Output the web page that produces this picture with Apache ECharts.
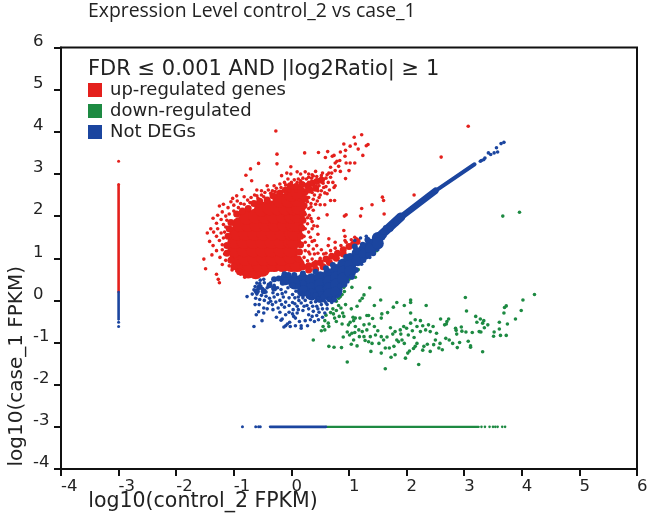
<!DOCTYPE html>
<html><head><meta charset="utf-8">
<style>html,body{margin:0;background:#fff}#c{width:647px;height:516px;filter:blur(0.4px)}</style>
<script src="https://cdn.jsdelivr.net/npm/echarts@6/dist/echarts.min.js"></script></head>
<body><div id="c"></div>
<script>
const titleText = "Expression Level control_2 vs case_1";
const ruleText = "FDR ≤ 0.001 AND |log2Ratio| ≥ 1";
const upName = "up-regulated genes", downName = "down-regulated", notName = "Not DEGs";

const redCore = [
[-.75,.7],[-.62,.68],[-.5,.74],
[-.88,.85],[-.72,.85],[-.56,.85],[-.4,.85],[-.3,.85],[-.15,.85],[0,.85],[.1,.85],
[-.95,1],[-.8,1],[-.64,1],[-.48,1],[-.32,1],[-.16,1],[-.02,1.05],
[-.98,1.2],[-.82,1.2],[-.66,1.2],[-.5,1.2],[-.34,1.2],[-.18,1.2],[-.02,1.2],
[-.98,1.4],[-.82,1.4],[-.66,1.4],[-.5,1.4],[-.34,1.4],[-.18,1.4],[-.02,1.4],[.04,1.4],
[-.95,1.6],[-.8,1.6],[-.64,1.6],[-.48,1.6],[-.32,1.6],[-.16,1.6],[0,1.6],[.06,1.6],
[-.9,1.8],[-.75,1.8],[-.6,1.8],[-.44,1.8],[-.28,1.8],[-.12,1.8],[.02,1.8],[.08,1.8],
[-.78,1.98],[-.62,2],[-.46,2],[-.3,2],[-.14,2],[0,2],[.1,2.02],
[-.52,2.17],[-.38,2.2],[-.24,2.2],[-.1,2.2],[.04,2.2],[.12,2.22],
[-.2,2.38],[-.05,2.38],[.1,2.4],
[0,2.52],[.12,2.55]];
const redMid = [
[-1.1,1.52],[-1.12,1.3],[-1.12,1.12],[-1.05,.95],[-1,.8],[-.9,.68],[-1.08,1.7],[-1.05,1.85],[-.95,2.05],[-.85,2.12],[-.75,2.18],[-.65,2.3],[-.55,2.35],[-.42,2.38],[-.32,2.48],[-.2,2.55],[-.1,2.62],[-.02,2.72],[.08,2.7],[.18,2.75],[.28,2.72],[.36,2.78],[.44,2.82],[.52,2.85],[.24,2.58],[.32,2.62],[.42,2.66],[.24,2.42],[.22,2.25],[.2,2.06],[.2,1.9],[.18,1.72],[.16,1.52],[.16,1.32],[.14,1.15],[.12,.98],
[.3,.82],[.4,.85],[.5,.9],[.6,.98],[.7,1.05],[.8,1.12],[.9,1.2],[1,1.28],[1.08,1.34],[1.14,1.4],[.2,.8],[.3,.72],[.42,.74],[.55,.8],[.66,.9],[.78,1],[.9,1.1]];
const redSmall = [
[-.27,4.02],[-.25,3.47],[-.25,3.24],[-.57,3.25],[-.71,3.12],[-.79,2.97],[-.69,2.84],[-.86,2.63],[-.01,3.17],[-.01,3],[-.17,2.96],[.23,3.5],[.47,3.51],[.63,3.53],[1.22,3.93],[1.09,3.87],[.91,3.71],[1.11,3.71],[1.02,3.66],[1.16,3.59],[1.3,3.67],[1.33,3.7],[1.24,3.44],[.85,3.52],[.94,3.56],[.93,3.42],[.71,3.42],[.74,3.44],[.59,3.39],[.79,3.3],[.84,3.32],[1.02,3.26],[1.1,3.26],[.95,3.26],[1,3.08],[.76,3.26],[.82,3.18],[.68,3.16],[.76,3.08],[.85,3.06],[.65,3.02],[.94,2.89],[.76,2.72],[.42,3.06],[.3,3],[.16,3],
[.62,2.53],[.75,2.37],[.68,2.37],[.62,2.03],[.5,2.27],[.58,2.27],[1.22,2.18],[.95,2.03],[.92,2],[.36,1.87],[.47,1.95],[.45,1.76],[.39,1.77],[.46,1.57],[.65,1.46],[.91,1.66],[.93,1.52],[.93,1.42],[.76,1.38],[.64,1.3],[3.07,4.13],[2.6,3.4],[2.13,2.5],[1.58,2.45],[1.6,2.37],[1.4,2.27],[1.61,2.05],[1.2,2.0],
[.05,2.86],[.1,2.8],[.16,2.84],[.21,2.78],[.26,2.88],[.3,2.8],[.35,2.9],[.39,2.82],[.44,2.94],[.48,2.86],[.52,2.96],[.56,2.88],[.6,2.9],[.64,2.8],[.68,2.92],[.55,2.78],[.48,2.72],[.4,2.7],[.33,2.68],[.27,2.7],[.2,2.62],[.14,2.66],[.08,2.6],[.02,2.68],[-.04,2.6],[-.09,2.55],[-.14,2.62],[-.2,2.56],[-.26,2.66],[-.33,2.6],[-.4,2.62],[-.46,2.56],[-.52,2.5],[-.58,2.42],[-.64,2.5],[-.7,2.44],[-.76,2.38],[-.82,2.46],[-.88,2.3],[-.94,2.36],[-1,2.26],[-1.05,2.34],[-1.1,2.2],[-1.18,2.28],[-1.25,2.24],[-1.2,2.1],[-1.28,2.02],[-1.36,1.95],[-1.14,2],[-1.22,1.92],[-1.3,1.83],[-1.4,1.7],[-1.46,1.6],[-1.35,1.62],[-1.28,1.7],[-1.18,1.8],[-1.12,1.9],[-1.22,1.6],[-1.3,1.52],[-1.42,1.4],[-1.36,1.3],[-1.25,1.42],[-1.2,1.32],[-1.3,1.18],[-1.38,1.08],[-1.24,1.02],[-1.16,1.1],[-1.14,.95],[-1.2,.85],[-1.08,.82],[-1.03,.72],[-.95,.7],[-.88,.62],[-.81,.55],[-1.52,.98],[-1.49,.75],[-1.3,.62],[-1.27,.5],[-1.25,.42],
[-1.18,1.48],[-1.2,1.2],[-1.16,1.62],[-1.14,1.74],[-1.08,2.05],[-1,2.12],[-.92,2.2],[-.82,2.28],[-.72,2.32],[-.6,2.48],[-.48,2.46],[-.36,2.54],[-.28,2.58],[-.18,2.68],[-.1,2.74],[.0,2.8],[.12,2.88],[.2,2.9],[.3,2.92],[.38,2.95],
[.14,2.38],[.22,2.36],[.3,2.44],[.25,2.55],[.34,2.3],[.4,2.5],[.45,2.36],[.52,2.6],[.3,2.18],[.38,2.14],[.24,2.04],[.31,2.02],[.2,1.9],[.28,1.82],[.24,1.7],[.3,1.62],[.22,1.52],[.33,1.5],[.24,1.38],[.3,1.3],[.38,1.22],[.44,1.3],[.24,1.18],[.32,1.1],[.22,1.02],[.28,.94],[.36,.98],[.42,.92],[.5,1],[.56,1.1],[.6,1.12],[.68,1.18],[.76,1.24],[.86,1.3],[.95,1.38],[.52,1.2],[1.1,1.5],[1.13,1.46],[1.04,1.44],
[.6,2.7],[.66,2.62],[.58,2.55],[.5,2.5],[.72,2.8],[.74,2.68],[.62,2.98],[.7,3.02],[.54,3.02],[.36,2.56],[.46,2.6],[.56,2.68],[.28,2.34],[.38,2.4],[.34,2.22],[.42,2.28],[.48,2.44],[.1,3.05],[.24,3.05],[.36,2.98],[-.06,2.88],[-.12,2.8],[-.2,2.76],[-.3,2.72],[-.42,2.72],[-.52,2.6],[-.6,2.62],[-.95,2.48],[-1.02,2.42],[-.08,3.02],[.34,1.94],[.28,1.96],[.36,1.7],[.4,1.42],[.36,1.4],[.3,1.15],[.4,1.1],[.46,1.12]];
const greenPts = [
[3.67,2],[3.96,2.09],[4.22,.14],[4.02,.01],[3.02,.07],[3.99,-.24],[3.73,-.13],[3.7,-.17],[3.69,-.3],[3.89,-.44],[3.04,-.25],[3.2,-.38],[3.28,-.44],[3.34,-.48],[3.41,-.58],[3.32,-.54],[3.35,-.65],[3.26,-.74],[3.29,-.75],[3.14,-.76],[3.22,-.52],[3.61,-.52],[3.75,-.56],[3.61,-.68],[3.52,-.75],[3.51,-.85],[3.63,-.83],[3.73,-.83],[3.32,-1.22],[3.11,-1.08],[3.11,-1.11],[3.07,-.97],[2.92,-1],[2.88,-1.12],[2.8,-1.02],[2.74,-.94],[2.68,-.9],[2.85,-.66],[2.86,-.71],[2.87,-.8],[2.95,-.63],[2.96,-.73],[3.03,-.75],[2.73,-.44],[2.7,-.5],[2.66,-.58],[2.69,-.56],[2.59,-.44],[2.34,-.12],[2.07,.01],[2.07,-.05],[1.96,-.12],[1.83,-.05],[1.77,-.16],[2.07,-.3],[1.67,-.29],[1.55,.01],[1.57,-.32],[1.56,-.42],[1.41,-.43],[1.31,-.36],[1.34,-.36],[1.19,-.42],[1.26,.13],[1.23,.05],[1.19,-.01],[1.14,-.14],[1.04,-.2],[.94,-.1],[.82,-.12],[.86,-.18],[.89,-.3],[.91,-.38],[1.02,-.52],[1.07,-.4],[1.11,-.42],[1.08,-.48],[.99,-.58],[.88,-.56],[.78,-.5],[.64,-.54],[.55,-.62],[.65,-.62],[.73,-.32],[.68,-.29],[.65,-1.09],[.74,-1.11],[.87,-1.12],[.97,-1.46],[1.63,-1.62],[2.21,-1.52],[1.04,-1.04],[1.14,-1.08],[1.08,-.94],[.9,-.87],[.97,-.75],[1.01,-.82],[1.05,-.78],[1.11,-.62],[1.17,-.7],[1.23,-.74],[1.26,-.58],[1.31,-.7],[1.35,-.56],[1.37,-.86],[1.26,-.86],[1.34,-.98],[1.4,-1.02],[1.38,-1.21],[1.46,-.82],[1.56,-.86],[1.52,-1.02],[1.6,-.94],[1.66,-.87],[1.56,-1.25],[1.63,-1.13],[1.73,-1.35],[1.8,-1.29],[1.83,-.94],[1.86,-.98],[1.8,-.74],[1.89,-.7],[1.95,-.62],[2,-.66],[2.07,-.54],[2.15,-.46],[2.24,-.48],[2.18,-.62],[2.24,-.74],[2.33,-.7],[2.38,-.58],[2.41,-.74],[2.5,-.94],[2.47,-1.05],[2.56,-1.13],[2.62,-1.17],[2.41,-1.21],[2.3,-1.09],[2.18,-1.02],[2.15,-1.09],[2.02,-1.25],[1.98,-1.37],[1.92,-.94],[1.78,-1.09],[1.7,-1.13],[1.72,-.65],[1.76,-.8],[1.9,-.8],[2.03,-.82],[2.1,-.72],[2.13,-.88],[2.28,-.6],[2.46,-.62],[2.52,-.78],[2.58,-1.02],[2.36,-1.04],[2.28,-1.18],[2.12,-1.14],[1.96,-1.02],[2.05,-1.2],[1.5,-.72],[1.44,-.62],[1.28,-.95],[1.18,-.86],[1.1,-.76],
[1.48,1.18],[1.16,.73],[1.11,.55],[1.05,.53],[1.05,.31],[1,.5],[.91,.31],[.92,.21],[.85,.09],[.82,.05],[.88,.14],[.98,.58],[.78,-.02],[.72,-.2],[.6,-.35],[.58,-.48],[.52,-.72],[.58,-.7],[.38,-.94],[.78,-.24],[.83,-.38],[.75,-.42],[1.36,.3],[1.44,-.12]];
const blueCore = [
[-.1,.5],[.05,.47],[.2,.5],[.2,.35],[.35,.5],[.35,.28],[.5,.55],[.5,.38],[.5,.22],
[.05,.4],[.2,.22],[.35,.14],[.5,.08],
[.65,.62],[.65,.45],[.65,.28],[.65,.14],[.78,.72],[.78,.55],[.78,.38],[.78,.2],
[.9,.85],[.9,.68],[.9,.52],[1.02,.98],[1.02,.82],[1.02,.68],[1.15,1.12],[1.15,.95],
[1.27,1.22],[1.27,1.1],[1.38,1.32],[1.38,1.22],[1.5,1.48],[1.5,1.35]];
const blueMid = [
[-.3,.5],[-.22,.52],[-.15,.42],[.1,.34],[.02,.36],[.28,.16],[.42,.12],[.55,.06],[.66,.03],[.74,.02],[.85,.34],[.92,.38],[1.05,.56],[1.12,.72],[1.25,.96],[1.34,1.08],[1.42,1.12],[1.6,1.62],[1.58,1.5],[1.1,1.28],[.95,1.03],[.42,.68],[.6,.76],[.72,.84],[.2,.64],[.05,.6],[-.12,.62],[-.05,.6],
[-.55,.32],[-.48,.22],[-.38,.36],[-.6,.22],[-.3,.28],[1.68,1.68],[1.75,1.78],[1.64,1.72],[1.72,1.7],[1.82,1.84],[1.24,1.32],[1.32,1.44]];
const blueLines = [[1.5,1.48],[1.9,1.98]];
const blueLinesMid = [[1.85,1.92],[2.5,2.6]];
const blueLinesThin = [[2.45,2.55],[3.18,3.23]];
const blueSmall = [
[-.77,.09],[-.65,-.62],[-.51,-.48],[-.61,-.34],[-.57,-.27],[-.48,-.18],[-.63,-.1],[-.65,.25],[-.63,.33],[-.6,.41],[-.54,.48],[-.48,.5],[-.68,.15],[-.6,.15],[-.52,.12],[-.44,.1],[-.62,.05],[-.55,.02],[-.47,0],[-.38,.05],[-.32,.18],[-.3,.08],[-.24,.14],[-.4,-.06],[-.33,-.1],[-.27,-.04],[-.2,0],[-.14,.08],[-.1,.2],[-.56,-.1],[-.48,-.3],[-.42,-.2],[-.32,-.22],[-.23,-.18],[-.17,-.1],[-.1,-.04],[-.04,.06],[.02,.14],[.06,.06],[-.2,-.28],[-.26,-.4],[-.16,-.44],[-.1,-.6],[-.13,-.63],[-.07,-.56],[-.03,-.52],[-.18,-.47],[-.02,-.62],[.07,-.6],[.17,-.66],[.17,-.6],[.04,-.38],[.07,-.42],[-.04,-.28],[.03,-.22],[.1,-.14],[.17,-.06],[.24,.0],[.1,-.3],[.2,-.24],[.27,-.12],[.34,-.05],[.42,-.03],[.5,.02],[.3,-.34],[.38,-.26],[.44,-.14],[.52,-.1],[.6,-.06],[.68,0],[.33,-.46],[.4,-.5],[.47,-.46],[.54,-.4],[.58,-.3],[.62,-.2],[.48,-.28],[.14,-.5],[.24,-.48],[.28,-.6],[.62,-.1],[.7,-.05],[.66,.04],[.02,-.05],[.8,.1],[.86,.26],[.98,.44],[1.08,.66],[1.22,.86],[1.36,1.02],[1.5,1.2],[1.62,1.52],[1.3,1.52],[1.2,1.48],[1.1,1.42],[3.3,3.32],[3.36,3.38],[3.46,3.46],[3.52,3.5],[3.58,3.52],[3.64,3.72],[3.69,3.75],[3.56,3.62],[3.42,3.5],[3.28,3.3],[3.34,3.34],
[-.55,.4],[-.47,.42],[-.42,.3],[-.36,.42],[-.3,.36],[-.24,.3],[-.18,.26],[-.44,.2],[-.16,.16],[-.06,.3],[.08,.22],[.16,.18],[.12,.08],[.2,.06],[.28,.08],[.36,.04],[.46,.05],[.58,-.02],[-.5,.28],[-.58,.3],[-.36,-.02],[-.12,-.16],[-.04,-.12],[.06,-.08],[.13,.0],[.22,-.14],[.3,-.2],[.37,-.14],[.46,-.2],[.54,-.2],[.12,-.22],[.02,-.32],[-.1,-.34],[.36,-.38],[.44,-.36]];
const vertRed = [[-3,.2],[-3,2.72]];
const vertBlue = [[-3,-.45],[-3,.2]];
const vertRedDots = [[-3,3.3],[-3,2.75]];
const vertBlueDots = [[-3,-.52],[-3,-.62]];
const horizBlue = [[-.37,-3],[.6,-3]];
const horizGreen = [[.6,-3],[3.25,-3]];
const horizBlueDots = [[-.85,-3],[-.62,-3],[-.57,-3],[-.54,-3]];
const horizGreenDots = [[3.3,-3],[3.36,-3],[3.44,-3],[3.5,-3],[3.54,-3],[3.58,-3],[3.66,-3],[3.71,-3]];

const RED="#e4201c", GREEN="#1d8a42", BLUE="#1b459f", DOT=3.6;
const pts=(name,data,color,size,z)=>({type:'scatter',name,data,symbolSize:size,z,itemStyle:{color,opacity:1},silent:true,animation:false,clip:false});
const ln=(name,data,color,w,z)=>({type:'line',name,data,showSymbol:false,symbol:'none',lineStyle:{color,width:w,cap:'round'},itemStyle:{color},z,silent:true,animation:false});
const FONT='"DejaVu Sans",sans-serif';
const chart=echarts.init(document.getElementById('c'),null,{renderer:'canvas'});
chart.setOption({
 animation:false,
 backgroundColor:'#fff',
 title:[{text:titleText,left:83,top:-3,textStyle:{fontFamily:'"Open Sans",sans-serif',fontSize:19.4,fontWeight:'normal',color:'#222'}},
        {text:ruleText,left:83,top:54,textStyle:{fontFamily:FONT,fontSize:21,fontWeight:'normal',color:'#222'}}],
 legend:{show:true,orient:'vertical',left:83,top:76,itemWidth:14,itemHeight:14,itemGap:3,
   data:[{name:upName,icon:'rect'},{name:downName,icon:'rect'},{name:notName,icon:'rect'}],
   selectedMode:false,textStyle:{fontFamily:FONT,fontSize:18,color:'#222',padding:[0,0,0,3]}},
 grid:{left:61,top:47.5,width:576,height:421.5,outerBoundsMode:'none',show:true,borderColor:'#111',borderWidth:2,backgroundColor:'#fff'},
 xAxis:{type:'value',min:-4,max:6,interval:1,name:'log10(control_2 FPKM)',nameLocation:'middle',nameGap:22,nameMoveOverlap:false,
   nameTextStyle:{fontFamily:FONT,fontSize:20.5,color:'#222',padding:[0,292,0,0]},
   axisLine:{onZero:false,lineStyle:{color:'#111',width:2}},axisTick:{length:7,lineStyle:{color:'#111',width:2}},
   axisLabel:{fontFamily:FONT,fontSize:16.5,color:'#222',margin:9,align:'left',showMinLabel:true,showMaxLabel:true},splitLine:{show:false}},
 yAxis:{type:'value',min:-4,max:6,interval:1,name:'log10(case_1 FPKM)',nameLocation:'middle',nameGap:34,nameMoveOverlap:false,
   nameTextStyle:{fontFamily:FONT,fontSize:20,color:'#222',padding:[0,216,0,0]},
   axisLine:{onZero:false,lineStyle:{color:'#111',width:2}},axisTick:{length:7,lineStyle:{color:'#111',width:2}},
   axisLabel:{fontFamily:FONT,fontSize:16.5,color:'#222',margin:28,align:'left',verticalAlign:'bottom',lineHeight:12,showMinLabel:true,showMaxLabel:true},splitLine:{show:false}},
 series:[
  pts(upName,redCore,RED,15,2),
  pts(upName,redMid,RED,7,2),
  pts(upName,redSmall,RED,DOT,2),
  pts(upName,vertRedDots,RED,3,2),
  ln(upName,vertRed,RED,2.6,2),
  pts(downName,greenPts,GREEN,DOT,3),
  ln(downName,horizGreen,GREEN,2.4,3),
  pts(downName,horizGreenDots,GREEN,2.6,3),
  pts(notName,blueCore,BLUE,12,4),
  pts(notName,blueMid,BLUE,6,4),
  pts(notName,blueSmall,BLUE,DOT,4),
  ln(notName,blueLines,BLUE,9,4),
  ln(notName,blueLinesMid,BLUE,6.5,4),
  ln(notName,blueLinesThin,BLUE,4,4),
  ln(notName,vertBlue,BLUE,2.6,4),
  pts(notName,vertBlueDots,BLUE,3,4),
  ln(notName,horizBlue,BLUE,2.6,4),
  pts(notName,horizBlueDots,BLUE,3,4)
 ]
});
</script></body></html>
